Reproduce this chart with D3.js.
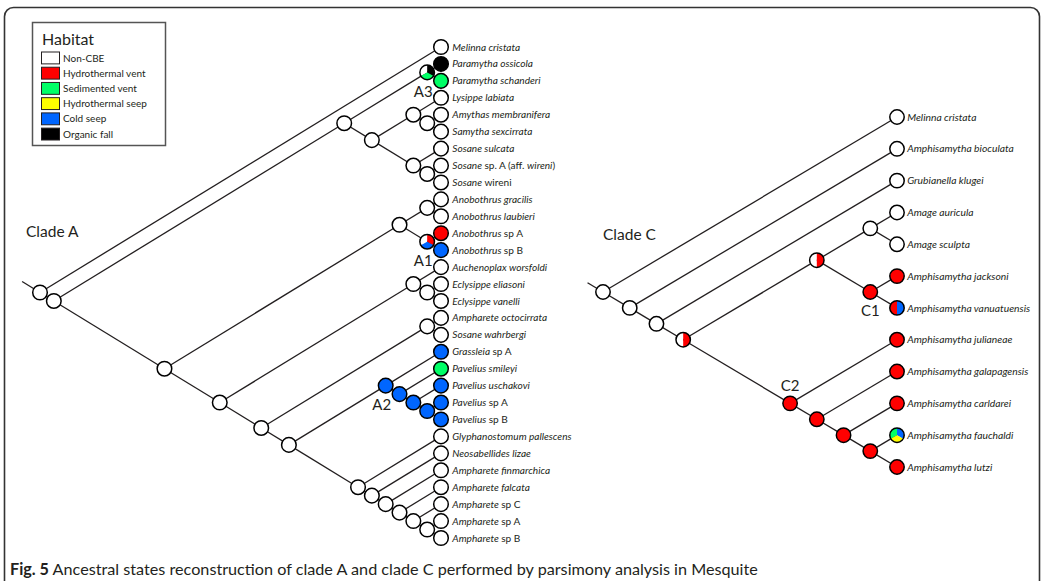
<!DOCTYPE html>
<html>
<head>
<meta charset="utf-8">
<script src="https://cdn.jsdelivr.net/npm/d3@7"></script>
<style>
  body { margin: 0; background: #fff; }
  svg { display: block; font-family: Lato, "Open Sans", sans-serif; }
</style>
</head>
<body>
<svg id="fig" width="1044" height="581"></svg>
<script>
// Habitat states and their colours
const habitats = ["Non-CBE", "Hydrothermal vent", "Sedimented vent", "Hydrothermal seep", "Cold seep", "Organic fall"];
const habitatColors = ["#ffffff", "#ff0000", "#00ff66", "#ffff00", "#0066ff", "#000000"];

// Clade A terminals (text in braces is set upright)
const leavesA = [
  "Melinna cristata", "Paramytha ossicola", "Paramytha schanderi", "Lysippe labiata",
  "Amythas membranifera", "Samytha sexcirrata", "Sosane sulcata", "Sosane {sp. A (aff. }wireni{)}",
  "Sosane {wireni}", "Anobothrus gracilis", "Anobothrus laubieri", "Anobothrus {sp A}",
  "Anobothrus {sp B}", "Auchenoplax worsfoldi", "Eclysippe eliasoni", "Eclysippe vanelli",
  "Ampharete octocirrata", "Sosane wahrbergi", "Grassleia {sp A}", "Pavelius smileyi",
  "Pavelius uschakovi", "Pavelius {sp A}", "Pavelius {sp B}", "Glyphanostomum pallescens",
  "Neosabellides lizae", "Ampharete finmarchica", "Ampharete falcata", "Ampharete {sp C}",
  "Ampharete {sp A}", "Ampharete {sp B}"
];
const leafStatesA = [
  [0], [5], [2], [0], [0], [0], [0], [0], [0], [0], [0], [1], [4], [0], [0],
  [0], [0], [0], [4], [2], [4], [4], [4], [0], [0], [0], [0], [0], [0], [0]
];
// Topology of clade A, terminals given by index
const paramythaA = [1, 2];
const lysippeSosaneA = [[3, [4, 5]], [6, [7, 8]]];
const anobothrusA = [[9, 10], [11, 12]];
const eclysippeA = [13, [14, 15]];
const paveliusA = [18, [19, [20, [21, 22]]]];
const amphareteA = [23, [24, [25, [26, [27, [28, 29]]]]]];
const topologyA = [0, [[paramythaA, lysippeSosaneA], [anobothrusA, [eclysippeA, [[16, 17], [paveliusA, amphareteA]]]]]];
// Reconstructed states at internal nodes: [first terminal, last terminal, states]
const nodeStatesA = [
  [1, 2, [0, 5, 2]], [11, 12, [0, 1, 4]],
  [18, 22, [4]], [19, 22, [4]], [20, 22, [4]], [21, 22, [4]]
];
const nodeLabelsA = [["A3", 1, 2, "below"], ["A1", 11, 12, "below"], ["A2", 18, 22, "below"]];

// Clade C terminals
const leavesC = [
  "Melinna cristata", "Amphisamytha bioculata", "Grubianella klugei", "Amage auricula",
  "Amage sculpta", "Amphisamytha jacksoni", "Amphisamytha vanuatuensis", "Amphisamytha julianeae",
  "Amphisamytha galapagensis", "Amphisamytha carldarei", "Amphisamytha fauchaldi", "Amphisamytha lutzi"
];
const leafStatesC = [[0], [0], [0], [0], [0], [1], [1, 4], [1], [1], [1], [2, 4, 3], [1]];
const topologyC = [0, [1, [2, [[[3, 4], [5, 6]], [7, [8, [9, [10, 11]]]]]]]];
const nodeStatesC = [
  [3, 11, [0, 1]], [3, 6, [0, 1]], [5, 6, [1]],
  [7, 11, [1]], [8, 11, [1]], [9, 11, [1]], [10, 11, [1]]
];
const nodeLabelsC = [["C1", 5, 6, "below"], ["C2", 7, 11, "above"]];

const captionBold = "Fig. 5";
const captionText = " Ancestral states reconstruction of clade A and clade C performed by parsimony analysis in Mesquite";

const svg = d3.select("#fig");
const ink = "#231f20";

// Outer frame
svg.append("rect")
  .attr("x", 4.5).attr("y", 7.5).attr("width", 1035).attr("height", 620)
  .attr("rx", 9).attr("fill", "none").attr("stroke", "#333").attr("stroke-width", 1.6);

// Legend
const legend = svg.append("g");
legend.append("rect")
  .attr("x", 32.5).attr("y", 22.5).attr("width", 133).attr("height", 123)
  .attr("fill", "#fff").attr("stroke", "#555").attr("stroke-width", 1.5);
legend.append("text").attr("x", 42).attr("y", 45)
  .attr("font-size", 16).attr("fill", ink).text("Habitat");
const legendY = d3.scaleBand().domain(habitats).range([52, 140]).paddingInner(0.22);
habitats.forEach((h, i) => {
  legend.append("rect")
    .attr("x", 41.5).attr("y", legendY(h)).attr("width", 18).attr("height", legendY.bandwidth())
    .attr("fill", habitatColors[i]).attr("stroke", ink).attr("stroke-width", 1);
  legend.append("text")
    .attr("x", 63).attr("y", legendY(h) + legendY.bandwidth() / 2)
    .attr("dy", "0.36em").attr("font-size", 10).attr("fill", ink).text(h);
});

const pie = n => d3.pie().sort(null).value(1)
  .startAngle(-2 * Math.PI / n).endAngle(2 * Math.PI - 2 * Math.PI / n);

function drawTree(cfg) {
  const n = cfg.leaves.length;
  const yScale = d3.scaleLinear().domain([0, n - 1]).range([cfg.yTop, cfg.yBottom]);
  const xScale = d3.scaleLinear().domain([0, n - 1]).range([cfg.leafX, cfg.rootX]);
  const root = d3.hierarchy(cfg.topology, d => Array.isArray(d) ? d : null);
  root.eachAfter(node => {
    if (!node.children) { node.first = node.last = node.data; }
    else {
      node.first = node.children[0].first;
      node.last = node.children[node.children.length - 1].last;
    }
    node.px = xScale(node.last - node.first);
    node.py = (yScale(node.first) + yScale(node.last)) / 2;
  });
  const key = (a, b) => a + "-" + b;
  const stateMap = new Map(cfg.nodeStates.map(d => [key(d[0], d[1]), d[2]]));
  root.each(node => {
    node.states = node.children ? (stateMap.get(key(node.first, node.last)) || [0])
                                : cfg.leafStates[node.data];
  });

  const g = svg.append("g");
  // root stem continues the lower diagonal
  const dx = root.px - cfg.leafX, dy = root.py - yScale(n - 1);
  const len = Math.hypot(dx, dy);
  g.append("line")
    .attr("x1", root.px).attr("y1", root.py)
    .attr("x2", root.px + dx / len * cfg.stem).attr("y2", root.py + dy / len * cfg.stem)
    .attr("stroke", ink).attr("stroke-width", 1.3);
  g.selectAll("line.branch").data(root.links()).join("line")
    .attr("class", "branch")
    .attr("x1", d => d.source.px).attr("y1", d => d.source.py)
    .attr("x2", d => d.target.px).attr("y2", d => d.target.py)
    .attr("stroke", ink).attr("stroke-width", 1.3);

  const arc = d3.arc().innerRadius(0).outerRadius(cfg.r);
  const nodes = g.selectAll("g.node").data(root.descendants()).join("g")
    .attr("class", "node")
    .attr("transform", d => `translate(${d.px},${d.py})`);
  nodes.each(function (d) {
    const sel = d3.select(this);
    if (d.states.length === 1) {
      sel.append("circle").attr("r", cfg.r).attr("fill", habitatColors[d.states[0]]);
    } else {
      sel.selectAll("path").data(pie(d.states.length)(d.states)).join("path")
        .attr("d", arc).attr("fill", p => habitatColors[p.data]);
    }
    sel.append("circle").attr("r", cfg.r).attr("fill", "none")
      .attr("stroke", "#000").attr("stroke-width", 1.5);
  });

  // terminal names
  root.leaves().forEach(leaf => {
    const t = g.append("text")
      .attr("x", leaf.px + cfg.r + cfg.gap).attr("y", leaf.py).attr("dy", "0.35em")
      .attr("font-size", cfg.fontSize).attr("fill", ink);
    const parts = cfg.leaves[leaf.data].split(/([{}])/);
    let upright = false;
    parts.forEach(p => {
      if (p === "{") { upright = true; return; }
      if (p === "}") { upright = false; return; }
      if (p === "") return;
      t.append("tspan").attr("font-style", upright ? "normal" : "italic")
        .attr("xml:space", "preserve").text(p);
    });
  });

  // node labels
  cfg.labels.forEach(([lab, a, b, where]) => {
    const node = root.descendants().find(d => d.first === a && d.last === b && d.children);
    g.append("text")
      .attr("x", node.px + cfg.labelDx)
      .attr("y", where === "below" ? node.py + 19 : node.py - 18)
      .attr("dy", "0.35em").attr("text-anchor", "middle")
      .attr("font-size", 15).attr("fill", ink).text(lab);
  });

  svg.append("text").attr("x", cfg.titleX).attr("y", cfg.titleY).attr("dy", "0.35em")
    .attr("font-size", 15.5).attr("fill", ink).text(cfg.title);
}

drawTree({
  leaves: leavesA, leafStates: leafStatesA, topology: topologyA, nodeStates: nodeStatesA,
  labels: nodeLabelsA, leafX: 441, rootX: 40, yTop: 47, yBottom: 538, r: 7.3, gap: 4,
  fontSize: 10.1, stem: 21, labelDx: -4, title: "Clade A", titleX: 26, titleY: 232
});
drawTree({
  leaves: leavesC, leafStates: leafStatesC, topology: topologyC, nodeStates: nodeStatesC,
  labels: nodeLabelsC, leafX: 897, rootX: 603, yTop: 117, yBottom: 467, r: 7.2, gap: 3,
  fontSize: 10.3, stem: 18, labelDx: 0, title: "Clade C", titleX: 603, titleY: 235
});

// Caption
const cap = svg.append("text").attr("x", 10).attr("y", 575)
  .attr("font-size", 16.2).attr("fill", ink);
cap.append("tspan").attr("font-weight", "bold").text(captionBold);
cap.append("tspan").attr("xml:space", "preserve").text(captionText);
</script>
</body>
</html>
